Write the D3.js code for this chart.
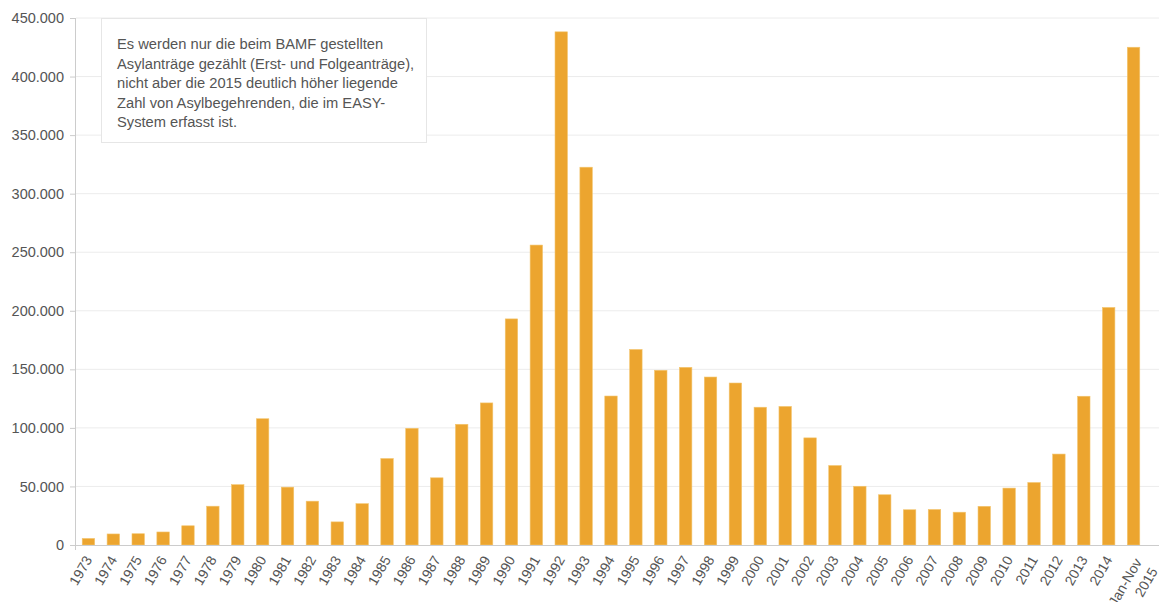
<!DOCTYPE html>
<html><head><meta charset="utf-8">
<script src="https://cdn.jsdelivr.net/npm/d3@7"></script>
<style>
body{margin:0;background:#fff;}
svg{display:block;font-family:"Liberation Sans",Arial,sans-serif;}
</style></head>
<body><svg id="c" width="1159" height="602"></svg>
<script>
const categories = ["1973","1974","1975","1976","1977","1978","1979","1980","1981","1982","1983","1984","1985","1986","1987","1988","1989","1990","1991","1992","1993","1994","1995","1996","1997","1998","1999","2000","2001","2002","2003","2004","2005","2006","2007","2008","2009","2010","2011","2012","2013","2014","Jan-Nov 2015"];
const values = [5595,9424,9627,11123,16410,33136,51493,107818,49391,37423,19737,35278,73832,99650,57379,103076,121318,193063,256112,438191,322599,127210,166951,149193,151700,143429,138319,117648,118306,91471,67848,50152,42908,30100,30303,28018,33033,48589,53347,77651,127023,202834,425035];
const yTicks = [0,50000,100000,150000,200000,250000,300000,350000,400000,450000];
const noteLines = ["Es werden nur die beim BAMF gestellten","Asylanträge gezählt (Erst- und Folgeanträge),","nicht aber die 2015 deutlich höher liegende","Zahl von Asylbegehrenden, die im EASY-","System erfasst ist."];

const svg = d3.select("#c");
const L = 76, R = 1146, T = 18, B = 545, W = 1159;
const x = d3.scaleBand().domain(categories).range([L, R]).paddingInner(0.5).paddingOuter(0.25);
const y = d3.scaleLinear().domain([0, 450000]).range([B, T]);
const fmt = v => d3.format(",")(v).replace(/,/g, ".");

// gridlines
svg.append("g").selectAll("line").data(yTicks.filter(d => d > 0)).join("line")
  .attr("x1", L).attr("x2", W).attr("y1", d => y(d)).attr("y2", d => y(d))
  .attr("stroke", "#ececec").attr("stroke-width", 1);

// y axis
const ya = svg.append("g").attr("transform", `translate(${L},0)`)
  .call(d3.axisLeft(y).tickValues(yTicks).tickFormat(fmt).tickSize(6).tickPadding(6));
ya.select(".domain").attr("stroke", "#ccc").attr("d", `M-0.5,${T}V${B+5}`);
ya.selectAll(".tick line").attr("stroke", "#ccc");
ya.selectAll("text").attr("fill", "#555").style("font-size", "14.5px").style("font-family", "Liberation Sans, Arial, sans-serif");

// bars
svg.append("g").selectAll("rect").data(values).join("rect")
  .attr("x", (d, i) => x(categories[i])).attr("width", x.bandwidth())
  .attr("y", d => y(d)).attr("height", d => B - y(d))
  .attr("fill", "#eca52f").attr("stroke", "#f3c56e").attr("stroke-width", 0.6);

// x axis line
svg.append("line").attr("x1", L).attr("x2", W).attr("y1", B + 0.5).attr("y2", B + 0.5).attr("stroke", "#ccc");

// x labels
const xl = svg.append("g").selectAll("text").data(categories).join("text")
  .attr("transform", d => `translate(${x(d) + x.bandwidth() / 2},${B + 12}) rotate(-60)`)
  .attr("text-anchor", "end").attr("fill", "#555").style("font-size", "14px");
xl.each(function(d) {
  const parts = d.split(" ");
  const t = d3.select(this);
  if (parts.length === 1) {
    t.append("tspan").attr("x", 0).attr("dy", "0.35em").text(d);
  } else {
    t.append("tspan").attr("x", 0).attr("dy", "0.72em").text(parts[0]);
    t.append("tspan").attr("x", 0).attr("dy", "1.3em").text(parts[1]);
  }
});

// annotation box
const note = svg.append("g");
note.append("rect").attr("x", 101.5).attr("y", 18.5).attr("width", 325).attr("height", 124)
  .attr("fill", "#fff").attr("stroke", "#e6e6e6");
note.selectAll("text").data(noteLines).join("text")
  .attr("x", 117).attr("y", (d, i) => 49 + i * 19.5)
  .attr("fill", "#555").style("font-size", "14.7px").text(d => d);
</script></body></html>
